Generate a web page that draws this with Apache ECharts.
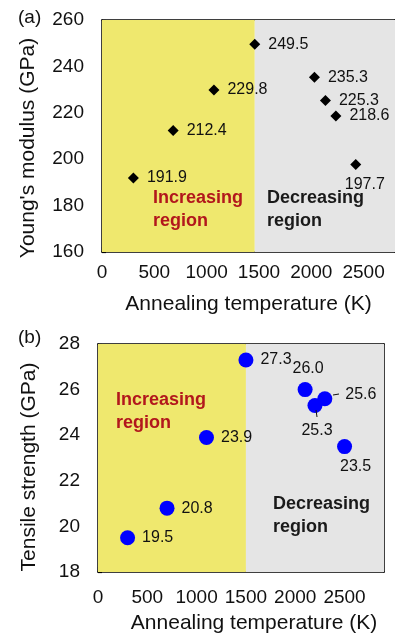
<!DOCTYPE html>
<html><head><meta charset="utf-8">
<script src="https://cdn.jsdelivr.net/npm/echarts@6/dist/echarts.min.js"></script>
<style>html,body{margin:0;padding:0;background:#fff}#c{width:395px;height:637px}</style>
</head><body><div id="c"></div>
<script>
// Panel (a): Young's modulus
const tempA = [300, 680, 1070, 1460, 2030, 2135, 2235, 2425];
const modulusA = [191.9, 212.4, 229.8, 249.5, 235.3, 225.3, 218.6, 197.7];
// Panel (b): Tensile strength
const tempB = [300, 700, 1100, 1500, 2100, 2200, 2300, 2500];
const strengthB = [19.5, 20.8, 23.9, 27.3, 26.0, 25.3, 25.6, 23.5];
// Region boundaries
const boundaryA = 1460, boundaryB = 1500;
const xMaxA = 2800, xMaxB = 2900;
const yTicksA = [160, 260, 20];
const yTicksB = [18, 28, 2];

const FONT = 'Liberation Sans, Arial, sans-serif';
const chart = echarts.init(document.getElementById('c'), null, {renderer: 'canvas'});
const black = '#000';
const lblFont = {fontFamily: FONT, fontSize: 16, color: '#111', opacity: 1};

function xAx(gi, max, nameGap, labelMargin, pad) {
  return {
    type: 'value', gridIndex: gi, min: 0, max: max, interval: 500,
    name: 'Annealing temperature (K)', nameLocation: 'middle', nameGap: nameGap,
    nameTextStyle: {fontFamily: FONT, fontSize: 21, color: '#111', padding: pad},
    axisLine: {show: true, lineStyle: {color: black, width: 1.5}},
    axisTick: {show: true, inside: true, length: 5, lineStyle: {color: black, width: 1.2}},
    axisLabel: {fontFamily: FONT, fontSize: 19, color: '#111', margin: labelMargin, showMaxLabel: false,
      formatter: v => String(v)},
    splitLine: {show: false}
  };
}
function xTop(gi, max) {
  return {type: 'value', gridIndex: gi, position: 'top', min: 0, max: max,
    axisLine: {show: true, onZero: false, lineStyle: {color: black, width: 1.5}},
    axisTick: {show: false}, axisLabel: {show: false}, splitLine: {show: false}};
}
function yAx(gi, t, name, nameGap, pad) {
  return {
    type: 'value', gridIndex: gi, min: t[0], max: t[1], interval: t[2],
    name: name, nameLocation: 'middle', nameGap: nameGap,
    nameTextStyle: {fontFamily: FONT, fontSize: 21, color: '#111', padding: pad},
    axisLine: {show: true, lineStyle: {color: black, width: 1.5}},
    axisTick: {show: true, inside: true, length: 4, lineStyle: {color: black, width: 1.2}},
    axisLabel: {fontFamily: FONT, fontSize: 19, color: '#111', margin: 18},
    splitLine: {show: false}
  };
}
function yRight(gi, t) {
  return {type: 'value', gridIndex: gi, position: 'right', min: t[0], max: t[1], interval: t[2],
    axisLine: {show: true, onZero: false, lineStyle: {color: black, width: 1.5}},
    axisTick: {show: false}, axisLabel: {show: false}, splitLine: {show: false}};
}

const labA = tempA.map((t, i) => {
  const d = {value: [t, modulusA[i]]};
  if (modulusA[i] === 197.7) d.label = {position: 'bottom', distance: 7, offset: [9, 0]};
  return d;
});
const labB = tempB.map((t, i) => {
  const v = strengthB[i];
  const d = {value: [t, v]};
  if (v === 26.0) d.label = {position: 'top', distance: 6, offset: [3, 0]};
  if (v === 25.3) d.label = {position: 'bottom', distance: 10, offset: [2, 0]};
  if (v === 23.5) d.label = {position: 'bottom', distance: 4, offset: [11, 0]};
  if (v === 25.6) d.label = {position: 'right', distance: 13, offset: [0, -4]};
  return d;
});

const option = {
  animation: false,
  grid: [
    {left: 102, top: 20, width: 293, height: 232},
    {left: 98, top: 344, width: 286, height: 228}
  ],
  xAxis: [xAx(0, xMaxA, 42, 11, [0, 0, 0, 0]), xTop(0, xMaxA),
          xAx(1, xMaxB, 41, 16, [0, 0, 0, 26]), xTop(1, xMaxB)],
  yAxis: [yAx(0, yTicksA, "Young's modulus (GPa)", 63, [0, 24, 0, 0]), yRight(0, yTicksA),
          yAx(1, yTicksB, 'Tensile strength (GPa)', 58, [0, 18, 0, 0]), yRight(1, yTicksB)],
  series: [
    {
      type: 'scatter', xAxisIndex: 0, yAxisIndex: 0, symbol: 'diamond', symbolSize: 11,
      itemStyle: {color: '#000', opacity: 1},
      label: Object.assign({show: true, position: 'right', distance: 8, formatter: p => p.value[1].toFixed(1)}, lblFont),
      data: labA,
      markArea: {silent: true, data: [
        [{xAxis: 0, itemStyle: {color: '#EFE86E', opacity: 1}}, {xAxis: boundaryA}],
        [{xAxis: boundaryA, itemStyle: {color: '#E5E5E5', opacity: 1}}, {xAxis: xMaxA}]
      ]}, z: 3
    },
    {
      type: 'scatter', xAxisIndex: 2, yAxisIndex: 2, symbol: 'circle', symbolSize: 15,
      itemStyle: {color: '#0000FF', opacity: 1},
      label: Object.assign({show: true, position: 'right', distance: 7, formatter: p => p.value[1].toFixed(1)}, lblFont),
      data: labB,
      markArea: {silent: true, data: [
        [{xAxis: 0, itemStyle: {color: '#EFE86E', opacity: 1}}, {xAxis: boundaryB}],
        [{xAxis: boundaryB, itemStyle: {color: '#E5E5E5', opacity: 1}}, {xAxis: xMaxB}]
      ]}, z: 3
    }
  ],
  graphic: {elements: [
    {type: 'text', left: 18, top: 8, z: 100, style: {text: '(a)', font: '19px ' + FONT, fill: '#111'}},
    {type: 'text', left: 18, top: 328, z: 100, style: {text: '(b)', font: '19px ' + FONT, fill: '#111'}},
    {type: 'text', left: 153, top: 187, z: 100, style: {text: 'Increasing\nregion', font: 'bold 18px ' + FONT, fill: '#B2171C', lineHeight: 23}},
    {type: 'text', left: 267, top: 187, z: 100, style: {text: 'Decreasing\nregion', font: 'bold 18px ' + FONT, fill: '#1a1a1a', lineHeight: 23}},
    {type: 'text', left: 116, top: 389, z: 100, style: {text: 'Increasing\nregion', font: 'bold 18px ' + FONT, fill: '#B2171C', lineHeight: 23}},
    {type: 'text', left: 273, top: 493, z: 100, style: {text: 'Decreasing\nregion', font: 'bold 18px ' + FONT, fill: '#1a1a1a', lineHeight: 23}},
    {type: 'line', z: 100, shape: {x1: 333, y1: 395, x2: 339, y2: 394}, style: {stroke: '#111', lineWidth: 1}},
    {type: 'line', z: 100, shape: {x1: 316, y1: 410, x2: 317, y2: 417}, style: {stroke: '#111', lineWidth: 1}}
  ]}
};
chart.setOption(option);
</script>
</body></html>
